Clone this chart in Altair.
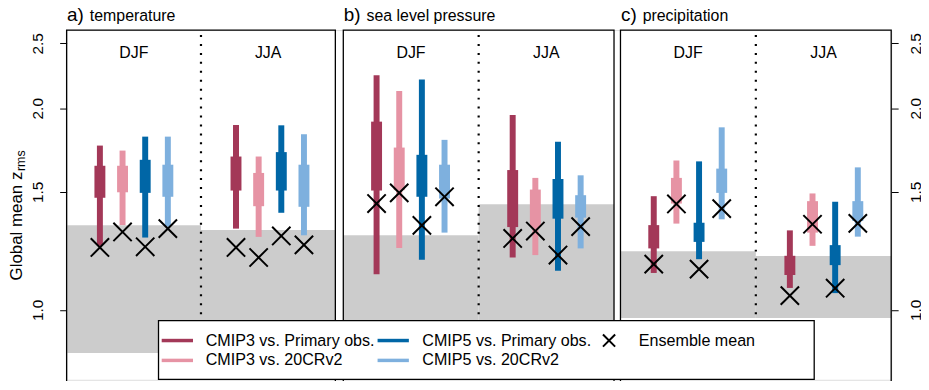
import altair as alt
import pandas as pd

# ---------------- data ----------------
series = ["CMIP3 vs. Primary obs.", "CMIP3 vs. 20CRv2",
          "CMIP5 vs. Primary obs.", "CMIP5 vs. 20CRv2"]
colors = ["#A33858", "#E693A4", "#0066A6", "#7EB0DE"]
panel_letters = ["a)", "b)", "c)"]
panel_names = ["temperature", "sea level pressure", "precipitation"]
seasons = ["DJF", "JJA"]

# order: panel (a,b,c) -> season (DJF,JJA) -> series (4)
whisker_lo = [1.246, 1.338, 1.282, 1.331,   1.322, 1.285, 1.396, 1.292,
              1.130, 1.237, 1.188, 1.304,   1.197, 1.207, 1.144, 1.235,
              1.135, 1.345, 1.190, 1.365,   1.078, 1.246, 1.059, 1.286]
box_lo = [1.470, 1.498, 1.495, 1.475,   1.507, 1.428, 1.507, 1.425,
          1.507, 1.509, 1.475, 1.466,   1.329, 1.329, 1.368, 1.373,
          1.235, 1.441, 1.263, 1.495,   1.127, 1.304, 1.166, 1.357]
box_hi = [1.641, 1.641, 1.675, 1.647,   1.694, 1.601, 1.720, 1.647,
          1.910, 1.747, 1.704, 1.647,   1.617, 1.512, 1.568, 1.483,
          1.338, 1.574, 1.349, 1.625,   1.204, 1.453, 1.249, 1.453]
whisker_hi = [1.759, 1.729, 1.814, 1.814,   1.888, 1.694, 1.886, 1.829,
              2.240, 2.123, 2.208, 1.794,   1.954, 1.574, 1.783, 1.588,
              1.478, 1.671, 1.666, 1.873,   1.314, 1.492, 1.450, 1.632]
ens_mean = [1.239, 1.307, 1.242, 1.322,   1.239, 1.197, 1.289, 1.250,
            1.441, 1.495, 1.337, 1.475,   1.278, 1.311, 1.207, 1.331,
            1.170, 1.439, 1.150, 1.416,   1.050, 1.342, 1.077, 1.346]
# grey band (noise level) per panel/season
noise_hi = [1.337, 1.316, 1.292, 1.437, 1.223, 1.203]
noise_lo = [0.862, 0.862, 0.750, 0.750, 0.972, 0.972]
y_ticks = [1.0, 1.5, 2.0, 2.5]

# ---------------- layout ----------------
W, H = 830, 352
FONT = "Liberation Sans"
TXT = 16.2
panel_left = [0.0, 278.5, 557.5]
panel_right = [270.5, 551.0, 830.0]
season_off = [33.5, 170.5]
step = 22.8

xscale = alt.Scale(domain=[0, W], nice=False, zero=False)
yscale = alt.Scale(type="log", domain=[0.786, 2.617], nice=False)

rows, bands, seas, frames, dots, titles = [], [], [], [], [], []
for p in range(3):
    L, R = panel_left[p], panel_right[p]
    mid = (L + R) / 2
    frames.append({"x1": L, "x2": R})
    dots.append({"x": mid})
    wl = {"a": 0.556, "b": 0.556, "c": 0.5, ")": 0.333}
    lw = sum(wl[ch] for ch in panel_letters[p]) * 19
    titles.append({"x": L + 0.5, "xn": L + 0.5 + lw + 6,
                   "letter": panel_letters[p], "name": panel_names[p]})
    for s in range(2):
        k = p * 2 + s
        hl = L if s == 0 else mid
        hr = mid if s == 0 else R
        bands.append({"x1": hl, "x2": hr, "lo": noise_lo[k], "hi": noise_hi[k]})
        seas.append({"x": (hl + hr) / 2, "t": seasons[s]})
        for i in range(4):
            j = k * 4 + i
            rows.append({"x": L + season_off[s] + step * i, "series": series[i],
                         "wl": whisker_lo[j], "bl": box_lo[j], "bh": box_hi[j],
                         "wh": whisker_hi[j], "ens": ens_mean[j]})

df = pd.DataFrame(rows)
df_b = pd.DataFrame(bands)
df_s = pd.DataFrame(seas)
df_f = pd.DataFrame(frames)
df_d = pd.DataFrame(dots)
df_t = pd.DataFrame(titles)

color = alt.Color("series:N", scale=alt.Scale(domain=series, range=colors), legend=None)
X = lambda f: alt.X(f, scale=xscale, axis=None)

left_axis = alt.Axis(values=y_ticks, format=".1f", labelAngle=270, labelAlign="center",
                     labelBaseline="bottom", tickSize=7, labelPadding=14, domain=False,
                     grid=False, title=None, labelFontSize=15.5, labelColor="black",
                     tickColor="black", labelFont=FONT, orient="left")
right_axis = alt.Axis(values=y_ticks, format=".1f", labelAngle=270, labelAlign="center",
                      labelBaseline="top", tickSize=7, labelPadding=10, domain=False,
                      grid=False, title=None, labelFontSize=15.5, labelColor="black",
                      tickColor="black", labelFont=FONT, orient="right")

bands_l = alt.Chart(df_b).mark_rect(color="#CCCCCC", clip=True).encode(
    x=X("x1:Q"), x2="x2:Q",
    y=alt.Y("lo:Q", scale=yscale, axis=left_axis), y2="hi:Q")

dots_l = alt.Chart(df_d).mark_rule(color="black", strokeWidth=2.2, strokeDash=[2, 7]).encode(
    x=X("x:Q"), y=alt.value(5), y2=alt.value(H))

thin = alt.Chart(df).mark_rule(strokeWidth=6).encode(
    x=X("x:Q"), y=alt.Y("wl:Q", scale=yscale, axis=None), y2="wh:Q", color=color)

thick = alt.Chart(df).mark_rule(strokeWidth=11).encode(
    x=X("x:Q"), y=alt.Y("bl:Q", scale=yscale, axis=None), y2="bh:Q", color=color)

XPATH = "M-1,-1L1,1M-1,1L1,-1"
cross = alt.Chart(df).mark_point(shape=XPATH, size=340, filled=False, stroke="black",
                                 strokeWidth=2, opacity=1).encode(
    x=X("x:Q"), y=alt.Y("ens:Q", scale=yscale, axis=None))

frames_l = alt.Chart(df_f).mark_rect(fillOpacity=0, stroke="black", strokeWidth=1.3).encode(
    x=X("x1:Q"), x2="x2:Q", y=alt.value(0), y2=alt.value(H + 40))

season_l = alt.Chart(df_s).mark_text(font=FONT, fontSize=16, align="center",
                                     baseline="alphabetic", color="black").encode(
    x=X("x:Q"), y=alt.value(28), text="t:N")

letter_l = alt.Chart(df_t).mark_text(font=FONT, fontSize=19, align="left",
                                     baseline="alphabetic", color="black").encode(
    x=X("x:Q"), y=alt.value(-9.5), text="letter:N")
name_l = alt.Chart(df_t).mark_text(font=FONT, fontSize=16, align="left",
                                   baseline="alphabetic", color="black").encode(
    x=X("xn:Q"), y=alt.value(-9.5), text="name:N")

# y-axis title with subscript
ytitle_main = "Global mean z"
ytitle_sub = "rms"
YT_SIZE = 17
main_w = 6.447 * YT_SIZE
ytl = alt.Chart(pd.DataFrame({"t": [ytitle_main]})).mark_text(
    font=FONT, fontSize=YT_SIZE, angle=270, align="left", baseline="alphabetic",
    color="black").encode(x=alt.value(-45), y=alt.value(252), text="t:N")
yts = alt.Chart(pd.DataFrame({"t": [ytitle_sub]})).mark_text(
    font=FONT, fontSize=12.5, angle=270, align="left", baseline="alphabetic",
    color="black").encode(x=alt.value(-42), y=alt.value(252 - main_w - 0.5), text="t:N")

# legend (drawn on top)
LX0, LX1, LY0, LY1 = 92.5, 752.5, 292.5, 351.5
leg_box = alt.Chart(pd.DataFrame({"a": [0]})).mark_rect(
    fill="white", stroke="black", strokeWidth=1.3).encode(
    x=alt.value(LX0), x2=alt.value(LX1), y=alt.value(LY0), y2=alt.value(LY1))

col_line_x = [95.7, 313.0]
col_text_x = [140.0, 358.0]
row_y = [312.5, 332.5]
leg_rows = []
for i, s in enumerate(series):
    c, r = i // 2, i % 2
    leg_rows.append({"x1": col_line_x[c], "x2": col_line_x[c] + 31.5, "xt": col_text_x[c],
                     "row": r, "series": s})
df_leg = pd.DataFrame(leg_rows)
leg_layers = []
for r in range(2):
    base = alt.Chart(df_leg).transform_filter(alt.datum.row == r)
    leg_layers.append(base.mark_rule(strokeWidth=3.5).encode(
        x=X("x1:Q"), x2="x2:Q", y=alt.value(row_y[r]), color=color))
    leg_layers.append(base.mark_text(font=FONT, fontSize=TXT, align="left",
                                     baseline="middle", color="black").encode(
        x=X("xt:Q"), y=alt.value(row_y[r]), text="series:N"))
leg_cross = alt.Chart(pd.DataFrame({"a": [0]})).mark_point(
    shape=XPATH, size=150, filled=False, stroke="black", strokeWidth=2, opacity=1).encode(
    x=alt.value(546), y=alt.value(row_y[0]))
leg_cross_t = alt.Chart(pd.DataFrame({"t": ["Ensemble mean"]})).mark_text(
    font=FONT, fontSize=TXT, align="left", baseline="middle", color="black").encode(
    x=alt.value(576), y=alt.value(row_y[0]), text="t:N")

right = alt.Chart(pd.DataFrame({"v": y_ticks})).mark_point(opacity=0).encode(
    y=alt.Y("v:Q", scale=yscale, axis=right_axis))

chart = alt.layer(bands_l, dots_l, thin, thick, cross, frames_l, season_l, letter_l,
                  name_l, ytl, yts, leg_box, *leg_layers, leg_cross, leg_cross_t,
                  right).resolve_scale(y="independent").properties(
    width=W, height=H,
    padding={"left": 59, "top": 21, "right": 30, "bottom": 0},
    autosize=alt.AutoSizeParams(type="none"),
).configure_view(stroke=None).configure(font=FONT)

chart.save("out.html", embed_options={"renderer": "svg", "actions": False})
